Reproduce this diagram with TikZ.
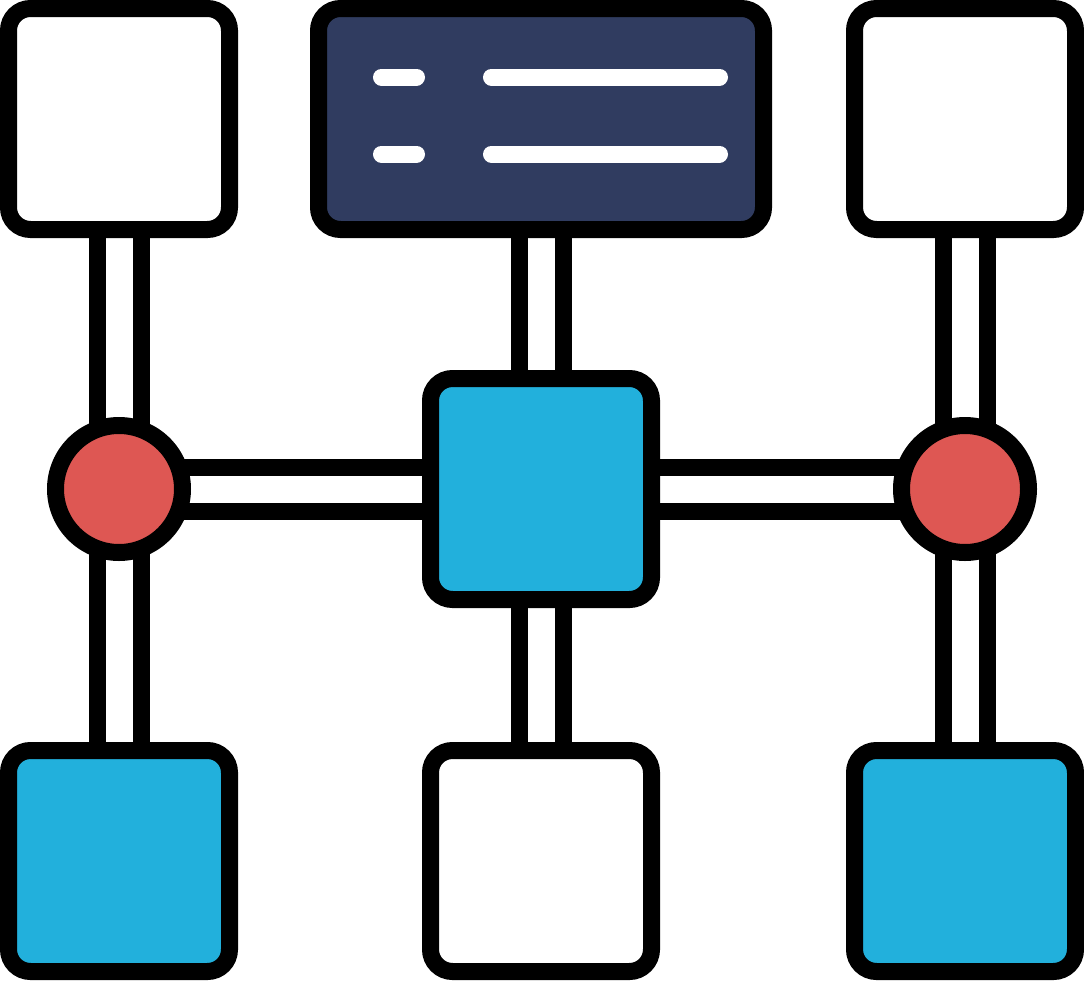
\documentclass[tikz,border=0pt]{standalone}
\usetikzlibrary{backgrounds,calc}
\definecolor{navy}{HTML}{303C60}
\definecolor{skyblue}{HTML}{22B0DC}
\definecolor{redfill}{HTML}{DE5753}
\tikzset{
  box/.style={draw=black, line width=17pt, rounded corners=22pt, minimum width=221pt, minimum height=221pt, inner sep=0pt, fill=white},
  widebox/.style={box, minimum width=445pt},
  hub/.style={circle, draw=black, line width=17pt, minimum size=127pt, inner sep=0pt, fill=redfill},
  pipe/.style={draw=black, line width=17pt, double=white, double distance=27pt},
  textline/.style={draw=white, line width=17pt, line cap=round}
}
\begin{document}
\begin{tikzpicture}[x=1pt,y=-1pt]
\useasboundingbox (0,0) rectangle (1084,980);
\node[box] (tl) at (119,119) {};
\node[widebox, fill=navy] (tm) at (541,119) {};
\node[box] (tr) at (965,119) {};
\node[box, fill=skyblue] (c) at (541,489) {};
\node[box, fill=skyblue] (bl) at (119,861) {};
\node[box] (bm) at (541,861) {};
\node[box, fill=skyblue] (br) at (965,861) {};
\node[hub] (lc) at (119,489) {};
\node[hub] (rc) at (965,489) {};
\draw[textline] ($(tm.center)+(-159.5,-42)$) -- ($(tm.center)+(-124.5,-42)$);
\draw[textline] ($(tm.center)+(-49.5,-42)$) -- ($(tm.center)+(178.5,-42)$);
\draw[textline] ($(tm.center)+(-159.5,35)$) -- ($(tm.center)+(-124.5,35)$);
\draw[textline] ($(tm.center)+(-49.5,35)$) -- ($(tm.center)+(178.5,35)$);
\begin{scope}[on background layer]
\draw[pipe] (tl.center) -- (lc.center);
\draw[pipe] (lc.center) -- (bl.center);
\draw[pipe] (tr.center) -- (rc.center);
\draw[pipe] (rc.center) -- (br.center);
\draw[pipe] (tm.center) -- (c.center);
\draw[pipe] (c.center) -- (bm.center);
\draw[pipe] (lc.center) -- (c.center);
\draw[pipe] (c.center) -- (rc.center);
\end{scope}
\end{tikzpicture}
\end{document}
